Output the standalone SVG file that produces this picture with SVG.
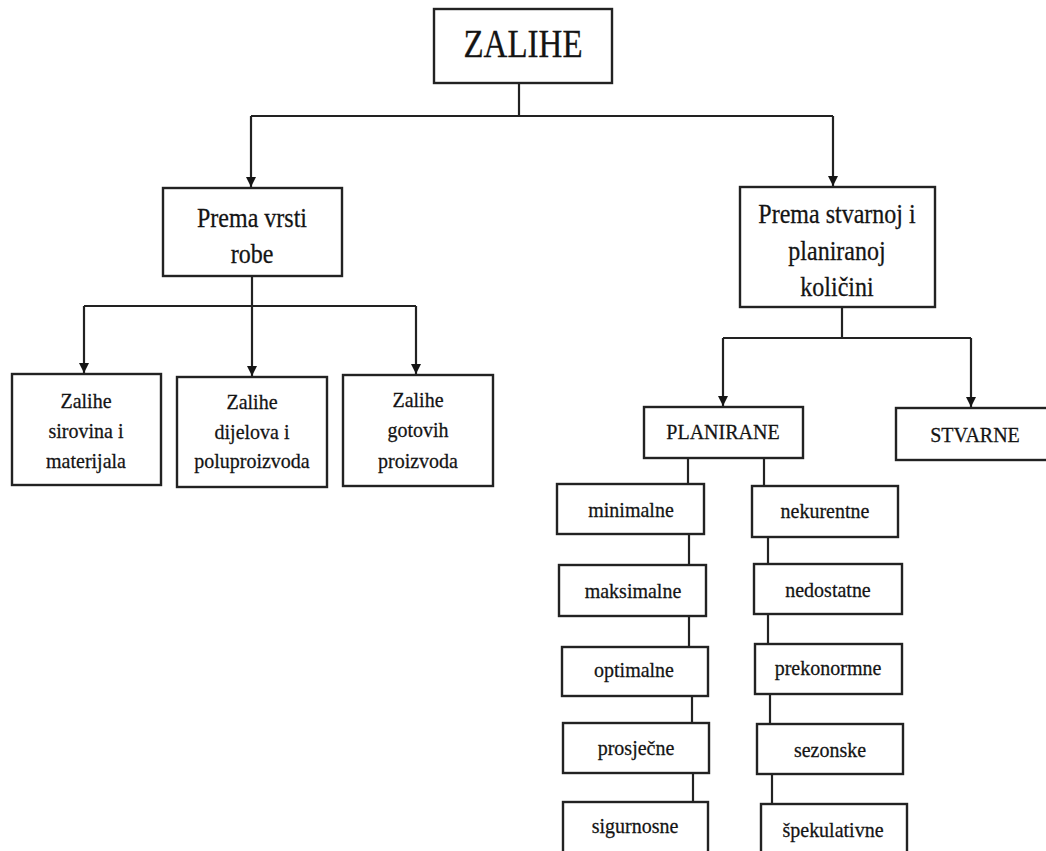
<svg xmlns="http://www.w3.org/2000/svg" width="1046" height="851" viewBox="0 0 1046 851">
<style>
.box{fill:#fff;stroke:#222;stroke-width:2.4}
.ln{fill:none;stroke:#222;stroke-width:2.2}
.tx{fill:#141414;text-anchor:middle;stroke:#141414;stroke-width:0.25}
.t20{font-size:20px}
.t24{font-size:24px}
.t33{font-size:33px}
</style>
<defs>
<marker id="ah" markerWidth="10" markerHeight="10" refX="10" refY="5" orient="auto" markerUnits="userSpaceOnUse" viewBox="0 0 10 10">
<path d="M0,0 L10,5 L0,10 Z" fill="#141414"/>
</marker>
</defs>
<rect width="1046" height="851" fill="#fff"/>
<g id="connectors">
<path class="ln" d="M519,83 V116"/>
<path class="ln" d="M251,116 H833"/>
<path class="ln" d="M251,116 V187" marker-end="url(#ah)"/>
<path class="ln" d="M833,116 V186" marker-end="url(#ah)"/>
<path class="ln" d="M252,276 V306"/>
<path class="ln" d="M84,306 H416"/>
<path class="ln" d="M84,306 V373" marker-end="url(#ah)"/>
<path class="ln" d="M252,306 V376" marker-end="url(#ah)"/>
<path class="ln" d="M416,306 V374" marker-end="url(#ah)"/>
<path class="ln" d="M842,307 V338"/>
<path class="ln" d="M723,338 H971"/>
<path class="ln" d="M723,338 V406" marker-end="url(#ah)"/>
<path class="ln" d="M971,338 V407" marker-end="url(#ah)"/>
<path class="ln" d="M688,457 V484"/>
<path class="ln" d="M764,457 V486"/>
<path class="ln" d="M689,534 V565"/>
<path class="ln" d="M689,616 V647"/>
<path class="ln" d="M692,696 V723"/>
<path class="ln" d="M693,773 V802"/>
<path class="ln" d="M768,537 V564"/>
<path class="ln" d="M768,614 V644"/>
<path class="ln" d="M770,694 V724"/>
<path class="ln" d="M772,774 V804"/>
</g>
<g font-family="'Liberation Serif', 'DejaVu Serif', serif">
<g id="n-zalihe">
<rect class="box" x="434" y="9" width="178" height="74"/>
<text class="tx t33" transform="translate(523,57) scale(1,1.2)">ZALIHE</text>
</g>
<g id="n-vrsta">
<rect class="box" x="163" y="188" width="179" height="88"/>
<text class="tx t24" transform="translate(252,227) scale(1,1.15)">Prema vrsti</text>
<text class="tx t24" transform="translate(252,263) scale(1,1.15)">robe</text>
</g>
<g id="n-kolicina">
<rect class="box" x="740" y="187" width="195" height="120"/>
<text class="tx t24" transform="translate(837,223) scale(1,1.15)">Prema stvarnoj i</text>
<text class="tx t24" transform="translate(837,260) scale(1,1.15)">planiranoj</text>
<text class="tx t24" transform="translate(837,296) scale(1,1.15)">količini</text>
</g>
<g id="n-sirovine">
<rect class="box" x="12" y="374" width="149" height="111"/>
<text class="tx t20" transform="translate(86,408) scale(1,1.1)">Zalihe</text>
<text class="tx t20" transform="translate(86,438) scale(1,1.1)">sirovina i</text>
<text class="tx t20" transform="translate(86,468) scale(1,1.1)">materijala</text>
</g>
<g id="n-dijelovi">
<rect class="box" x="177" y="377" width="150" height="110"/>
<text class="tx t20" transform="translate(252,409) scale(1,1.1)">Zalihe</text>
<text class="tx t20" transform="translate(252,439) scale(1,1.1)">dijelova i</text>
<text class="tx t20" transform="translate(252,468) scale(1,1.1)">poluproizvoda</text>
</g>
<g id="n-gotovi">
<rect class="box" x="343" y="375" width="150" height="111"/>
<text class="tx t20" transform="translate(418,407) scale(1,1.1)">Zalihe</text>
<text class="tx t20" transform="translate(418,437) scale(1,1.1)">gotovih</text>
<text class="tx t20" transform="translate(418,468) scale(1,1.1)">proizvoda</text>
</g>
<g id="n-planirane">
<rect class="box" x="644" y="407" width="159" height="51"/>
<text class="tx t20" transform="translate(723,439) scale(1,1.1)">PLANIRANE</text>
</g>
<g id="n-stvarne">
<rect class="box" x="896" y="408" width="160" height="52"/>
<text class="tx t20" transform="translate(975,442) scale(1,1.1)">STVARNE</text>
</g>
<g id="n-minimalne">
<rect class="box" x="557" y="484" width="147" height="50"/>
<text class="tx t20" transform="translate(631,517) scale(1,1.1)">minimalne</text>
</g>
<g id="n-maksimalne">
<rect class="box" x="559" y="565" width="147" height="51"/>
<text class="tx t20" transform="translate(633,598) scale(1,1.1)">maksimalne</text>
</g>
<g id="n-optimalne">
<rect class="box" x="562" y="647" width="146" height="49"/>
<text class="tx t20" transform="translate(634,677) scale(1,1.1)">optimalne</text>
</g>
<g id="n-prosjecne">
<rect class="box" x="563" y="723" width="146" height="50"/>
<text class="tx t20" transform="translate(636,755) scale(1,1.1)">prosječne</text>
</g>
<g id="n-sigurnosne">
<rect class="box" x="563" y="802" width="145" height="60"/>
<text class="tx t20" transform="translate(635,833) scale(1,1.1)">sigurnosne</text>
</g>
<g id="n-nekurentne">
<rect class="box" x="752" y="486" width="146" height="51"/>
<text class="tx t20" transform="translate(825,518) scale(1,1.1)">nekurentne</text>
</g>
<g id="n-nedostatne">
<rect class="box" x="754" y="564" width="148" height="50"/>
<text class="tx t20" transform="translate(828,597) scale(1,1.1)">nedostatne</text>
</g>
<g id="n-prekonormne">
<rect class="box" x="755" y="644" width="147" height="50"/>
<text class="tx t20" transform="translate(828,675) scale(1,1.1)">prekonormne</text>
</g>
<g id="n-sezonske">
<rect class="box" x="757" y="724" width="146" height="50"/>
<text class="tx t20" transform="translate(830,757) scale(1,1.1)">sezonske</text>
</g>
<g id="n-spekulativne">
<rect class="box" x="761" y="804" width="146" height="60"/>
<text class="tx t20" transform="translate(833,837) scale(1,1.1)">špekulativne</text>
</g>
</g>
</svg>
